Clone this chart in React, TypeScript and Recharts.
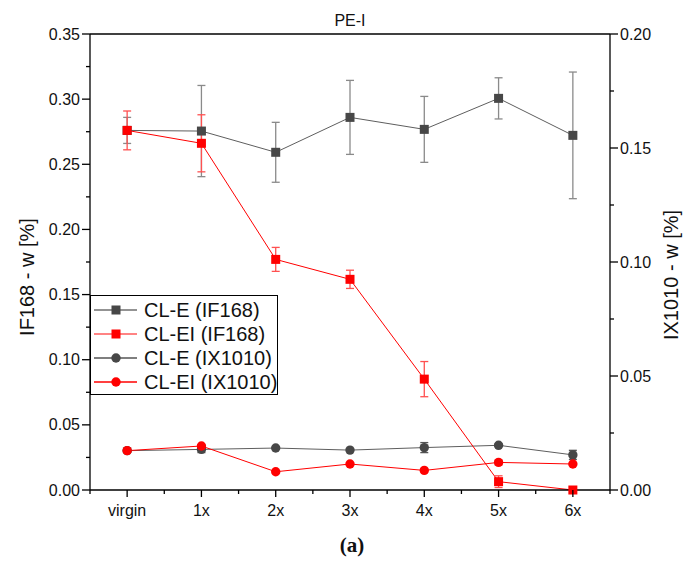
import React from "react";
import { LineChart, Line, XAxis, YAxis, ErrorBar, ReferenceLine } from "recharts";

const categories = ["virgin", "1x", "2x", "3x", "4x", "5x", "6x"];

// IF168, left axis
const clE_IF168 = [0.276, 0.2755, 0.2592, 0.286, 0.2768, 0.3006, 0.2722];
const clE_IF168_err = [0.01, 0.035, 0.023, 0.0284, 0.0253, 0.0158, 0.0486];
const clEI_IF168 = [0.276, 0.2661, 0.177, 0.1617, 0.0851, 0.0064, 0];
const clEI_IF168_err = [0.0149, 0.0219, 0.0092, 0.007, 0.0135, 0.0045, 0];

// IX1010, right axis
const clE_IX1010 = [0.01725, 0.0178, 0.0184, 0.0175, 0.0186, 0.0196, 0.0154];
const clE_IX1010_err = [0, 0.0014, 0, 0, 0.0022, 0.0005, 0.002];
const clEI_IX1010 = [0.01725, 0.0193, 0.008, 0.0114, 0.0086, 0.0121, 0.0114];
const clEI_IX1010_err = [0, 0, 0, 0, 0, 0.0011, 0];

const leftTicks = [0, 0.025, 0.05, 0.075, 0.1, 0.125, 0.15, 0.175, 0.2, 0.225, 0.25, 0.275, 0.3, 0.325, 0.35];
const rightTicks = [0, 0.025, 0.05, 0.075, 0.1, 0.125, 0.15, 0.175, 0.2];

const data = categories.map((name, i) => ({
  name,
  eIF: clE_IF168[i],
  eIFErr: clE_IF168_err[i],
  eiIF: clEI_IF168[i],
  eiIFErr: clEI_IF168_err[i],
  eIX: clE_IX1010[i],
  eIXErr: clE_IX1010_err[i],
  eiIX: clEI_IX1010[i],
  eiIXErr: clEI_IX1010_err[i],
}));

const FONT = "'Liberation Sans', Arial, sans-serif";
const GREY = "#474747";
const GREY_LINE = "#5e5e5e";
const RED = "#ff0000";
const BAND = (610 - 90) / categories.length;

const isMajor = (v: number) => Math.abs(v / 0.05 - Math.round(v / 0.05)) < 1e-6;

const LeftTick = (props: any) => {
  const { x, y, payload } = props;
  const major = isMajor(payload.value);
  const ax = x + 10;
  return (
    <g>
      <line x1={ax - (major ? 8 : 4)} x2={ax} y1={y} y2={y} stroke="#000" strokeWidth={1.3} />
      {major && (
        <text x={x} y={y} dy={5.5} textAnchor="end" fontSize={16} fontFamily={FONT} fill="#111">
          {payload.value.toFixed(2)}
        </text>
      )}
    </g>
  );
};

const RightTick = (props: any) => {
  const { x, y, payload } = props;
  const major = isMajor(payload.value);
  const ax = x - 10;
  return (
    <g>
      <line x1={ax} x2={ax + (major ? 8 : 4)} y1={y} y2={y} stroke="#000" strokeWidth={1.3} />
      {major && (
        <text x={x} y={y} dy={5.5} textAnchor="start" fontSize={16} fontFamily={FONT} fill="#111">
          {payload.value.toFixed(2)}
        </text>
      )}
    </g>
  );
};

const BottomTick = (props: any) => {
  const { x, y, payload, index } = props;
  const ay = y - 14;
  return (
    <g>
      <line x1={x} x2={x} y1={ay} y2={ay + 7} stroke="#000" strokeWidth={1.3} />
      <line x1={x + BAND / 2} x2={x + BAND / 2} y1={ay} y2={ay + 4} stroke="#000" strokeWidth={1.3} />
      {index === 0 && (
        <line x1={x - BAND / 2} x2={x - BAND / 2} y1={ay} y2={ay + 4} stroke="#000" strokeWidth={1.3} />
      )}
      <text x={x} y={y} dy={12} textAnchor="middle" fontSize={16} fontFamily={FONT} fill="#111">
        {payload.value}
      </text>
    </g>
  );
};

const square = (color: string) => (props: any) => {
  const { cx, cy, index } = props;
  if (cx == null || cy == null) return <g key={index} />;
  return <rect key={index} x={cx - 4.5} y={cy - 4.5} width={9} height={9} fill={color} />;
};

const circle = (color: string) => (props: any) => {
  const { cx, cy, index } = props;
  if (cx == null || cy == null) return <g key={index} />;
  return <circle key={index} cx={cx} cy={cy} r={4.7} fill={color} />;
};

const legendItems = [
  { label: "CL-E (IF168)", color: GREY, line: "#6f6f6f", shape: "square" },
  { label: "CL-EI (IF168)", color: RED, line: "#ff5a5a", shape: "square" },
  { label: "CL-E (IX1010)", color: GREY, line: "#555555", shape: "circle" },
  { label: "CL-EI (IX1010)", color: RED, line: RED, shape: "circle" },
];

export default function App() {
  return (
    <div style={{ position: "absolute", left: 0, top: 0, width: 684, height: 563, background: "#fff" }}>
      <LineChart width={684} height={563} data={data} margin={{ top: 34, right: 0, bottom: 33, left: 0 }}>
        <XAxis
          dataKey="name"
          height={40}
          padding={{ left: BAND / 2, right: BAND / 2 }}
          tickSize={7}
          tickMargin={7}
          tickLine={false}
          axisLine={{ stroke: "#000", strokeWidth: 1.3 }}
          tick={<BottomTick />}
          interval={0}
        />
        <YAxis
          yAxisId="left"
          width={90}
          domain={[0, 0.35]}
          ticks={leftTicks}
          interval={0}
          tickSize={8}
          tickMargin={2}
          tickLine={false}
          axisLine={{ stroke: "#000", strokeWidth: 1.3 }}
          tick={<LeftTick />}
          label={{
            content: () => (
              <text x={27} y={277} transform="rotate(-90 27 277)" textAnchor="middle" dominantBaseline="central" fontSize={20} fontFamily={FONT} fill="#111">
                IF168 - w [%]
              </text>
            ),
          }}
        />
        <YAxis
          yAxisId="right"
          orientation="right"
          width={74}
          domain={[0, 0.2]}
          ticks={rightTicks}
          interval={0}
          tickSize={8}
          tickMargin={2}
          tickLine={false}
          axisLine={{ stroke: "#000", strokeWidth: 1.3 }}
          tick={<RightTick />}
          label={{
            content: () => (
              <text x={671} y={275} transform="rotate(-90 671 275)" textAnchor="middle" dominantBaseline="central" fontSize={20} fontFamily={FONT} fill="#111">
                IX1010 - w [%]
              </text>
            ),
          }}
        />
        <ReferenceLine yAxisId="left" y={0.35} stroke="#000" strokeWidth={1.3} ifOverflow="extendDomain" />

        <Line yAxisId="left" dataKey="eIF" stroke={GREY_LINE} strokeWidth={1} dot={square(GREY)} activeDot={false} isAnimationActive={false}>
          <ErrorBar dataKey="eIFErr" width={4} stroke="#8a8a8a" strokeWidth={1.3} direction="y" />
        </Line>
        <Line yAxisId="right" dataKey="eIX" stroke={GREY_LINE} strokeWidth={1} dot={circle(GREY)} activeDot={false} isAnimationActive={false}>
          <ErrorBar dataKey="eIXErr" width={4} stroke="#555" strokeWidth={1.3} direction="y" />
        </Line>
        <Line yAxisId="left" dataKey="eiIF" stroke={RED} strokeWidth={1} dot={square(RED)} activeDot={false} isAnimationActive={false}>
          <ErrorBar dataKey="eiIFErr" width={4} stroke="#ff5050" strokeWidth={1.3} direction="y" />
        </Line>
        <Line yAxisId="right" dataKey="eiIX" stroke={RED} strokeWidth={1} dot={circle(RED)} activeDot={false} isAnimationActive={false}>
          <ErrorBar dataKey="eiIXErr" width={4} stroke="#ff5050" strokeWidth={1.3} direction="y" />
        </Line>
      </LineChart>

      <div style={{ position: "absolute", left: 0, width: 700, top: 12, textAlign: "center", fontFamily: FONT, fontSize: 16, color: "#111", lineHeight: "18px" }}>
        PE-I
      </div>

      <div
        style={{
          position: "absolute",
          left: 90,
          top: 295,
          width: 188,
          height: 100,
          border: "1px solid #000",
          background: "#fff",
          boxSizing: "border-box",
        }}
      >
        {legendItems.map((it, i) => (
          <div key={it.label} style={{ position: "absolute", left: 0, top: 2 + i * 24, height: 24, display: "flex", alignItems: "center" }}>
            <svg width={50} height={24} style={{ display: "block" }}>
              <line x1={3} x2={46} y1={12} y2={12} stroke={it.line} strokeWidth={1.3} />
              {it.shape === "square" ? (
                <rect x={20.5} y={7.5} width={9} height={9} fill={it.color} />
              ) : (
                <circle cx={25} cy={12} r={4.7} fill={it.color} />
              )}
            </svg>
            <span style={{ marginLeft: 3, fontFamily: FONT, fontSize: 20, color: "#111", whiteSpace: "nowrap" }}>{it.label}</span>
          </div>
        ))}
      </div>

      <div style={{ position: "absolute", left: 0, width: 704, top: 533, textAlign: "center", fontFamily: "'Liberation Serif', serif", fontWeight: 700, fontSize: 21, color: "#111" }}>
        (a)
      </div>
    </div>
  );
}
